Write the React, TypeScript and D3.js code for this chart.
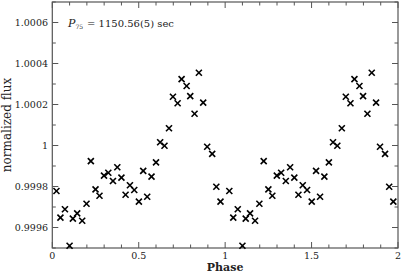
import React from "react";
import * as d3 from "d3";

const phases = [0.024,0.047,0.073,0.100,0.119,0.144,0.173,0.198,0.223,0.250,0.273,0.299,0.324,0.351,0.376,0.400,0.424,0.449,0.474,0.501,0.526,0.549,0.574,0.600,0.624,0.649,0.675,0.698,0.725,0.748,0.777,0.798,0.823,0.848,0.873,0.896,0.925,0.949,0.973];
const fluxes = [0.999778,0.999648,0.999689,0.999511,0.999643,0.999669,0.999633,0.999716,0.999924,0.999786,0.999755,0.999853,0.999867,0.999827,0.999894,0.999843,0.99976,0.999806,0.999783,0.999726,0.999876,0.99975,0.999848,0.999918,1.000016,0.999999,1.000084,1.000238,1.000206,1.000324,1.00029,1.000241,1.000155,1.000355,1.000209,0.999994,0.999959,0.999799,0.999726];
const cycles = [0, 1];
const xMajor = [0, 0.5, 1, 1.5, 2];
const xMajorLabels = ["0", "0.5", "1", "1.5", "2"];
const yMajor = [0.9996, 0.9998, 1.0, 1.0002, 1.0004, 1.0006];
const yMajorLabels = ["0.9996", "0.9998", "1", "1.0002", "1.0004", "1.0006"];
const xLabel = "Phase";
const yLabel = "normalized flux";
const periodText = "= 1150.56(5) sec";

export default function App() {
  const W = 403, H = 274;
  const L = 52.3, R = 398, T = 2, B = 248;
  const x = d3.scaleLinear().domain([0, 2]).range([L, R]);
  const y = d3.scaleLinear().domain([0.9995, 1.0007]).range([B, T]);
  const xMinor = d3.range(0, 2.0001, 0.1).map((v) => +v.toFixed(2));
  const yMinor = d3.range(0.9995, 1.00070001, 0.0001).map((v) => +v.toFixed(5));
  const isMajX = (v: number) => xMajor.some((m) => Math.abs(m - v) < 1e-6);
  const isMajY = (v: number) => yMajor.some((m) => Math.abs(m - v) < 1e-7);
  const axisColor = "#555";
  const font = "DejaVu Serif";
  const pts: { px: number; py: number }[] = [];
  cycles.forEach((c) => phases.forEach((p, i) => pts.push({ px: x(p + c), py: y(fluxes[i]) })));
  const s = 3;
  return (
    <svg width={W} height={H} style={{ position: "absolute", left: 0, top: 0 }}>
      <rect x={0} y={0} width={W} height={H} fill="#fff" />
      {xMinor.map((v) => {
        const len = isMajX(v) ? 6 : 3.5;
        return (
          <g key={"xt" + v}>
            <line x1={x(v)} x2={x(v)} y1={B} y2={B - len} stroke={axisColor} strokeWidth={1} />
            <line x1={x(v)} x2={x(v)} y1={T} y2={T + len} stroke={axisColor} strokeWidth={1} />
          </g>
        );
      })}
      {yMinor.map((v) => {
        const len = isMajY(v) ? 6 : 3.5;
        return (
          <g key={"yt" + v}>
            <line x1={L} x2={L + len} y1={y(v)} y2={y(v)} stroke={axisColor} strokeWidth={1} />
            <line x1={R} x2={R - len} y1={y(v)} y2={y(v)} stroke={axisColor} strokeWidth={1} />
          </g>
        );
      })}
      <rect x={L} y={T} width={R - L} height={B - T} fill="none" stroke={axisColor} strokeWidth={1.2} />
      {xMajor.map((v, i) => (
        <text key={"xl" + v} x={x(v)} y={259} textAnchor="middle" fontFamily={font} fontSize={9.5} fill="#222">
          {xMajorLabels[i]}
        </text>
      ))}
      {yMajor.map((v, i) => (
        <text key={"yl" + v} x={48} y={y(v) + 3.5} textAnchor="end" fontFamily={font} fontSize={9.5} fill="#222">
          {yMajorLabels[i]}
        </text>
      ))}
      <text x={(L + R) / 2} y={270.5} textAnchor="middle" fontFamily={font} fontSize={11} fontWeight="bold" fill="#222">
        {xLabel}
      </text>
      <text transform={`translate(11,${(T + B) / 2}) rotate(-90)`} textAnchor="middle" fontFamily={font} fontSize={12} fill="#222">
        {yLabel}
      </text>
      <text x={68} y={27} fontFamily={font} fontSize={10} fill="#222">
        <tspan fontStyle="italic" fontSize={11}>P</tspan>
        <tspan fontSize={6} dy={2}>75</tspan>
        <tspan dy={-2} dx={4}>{periodText}</tspan>
      </text>
      {pts.map((p, i) => (
        <g key={"p" + i} stroke="#000" strokeWidth={1.6}>
          <line x1={p.px - s} x2={p.px + s} y1={p.py - s} y2={p.py + s} />
          <line x1={p.px - s} x2={p.px + s} y1={p.py + s} y2={p.py - s} />
        </g>
      ))}
    </svg>
  );
}
